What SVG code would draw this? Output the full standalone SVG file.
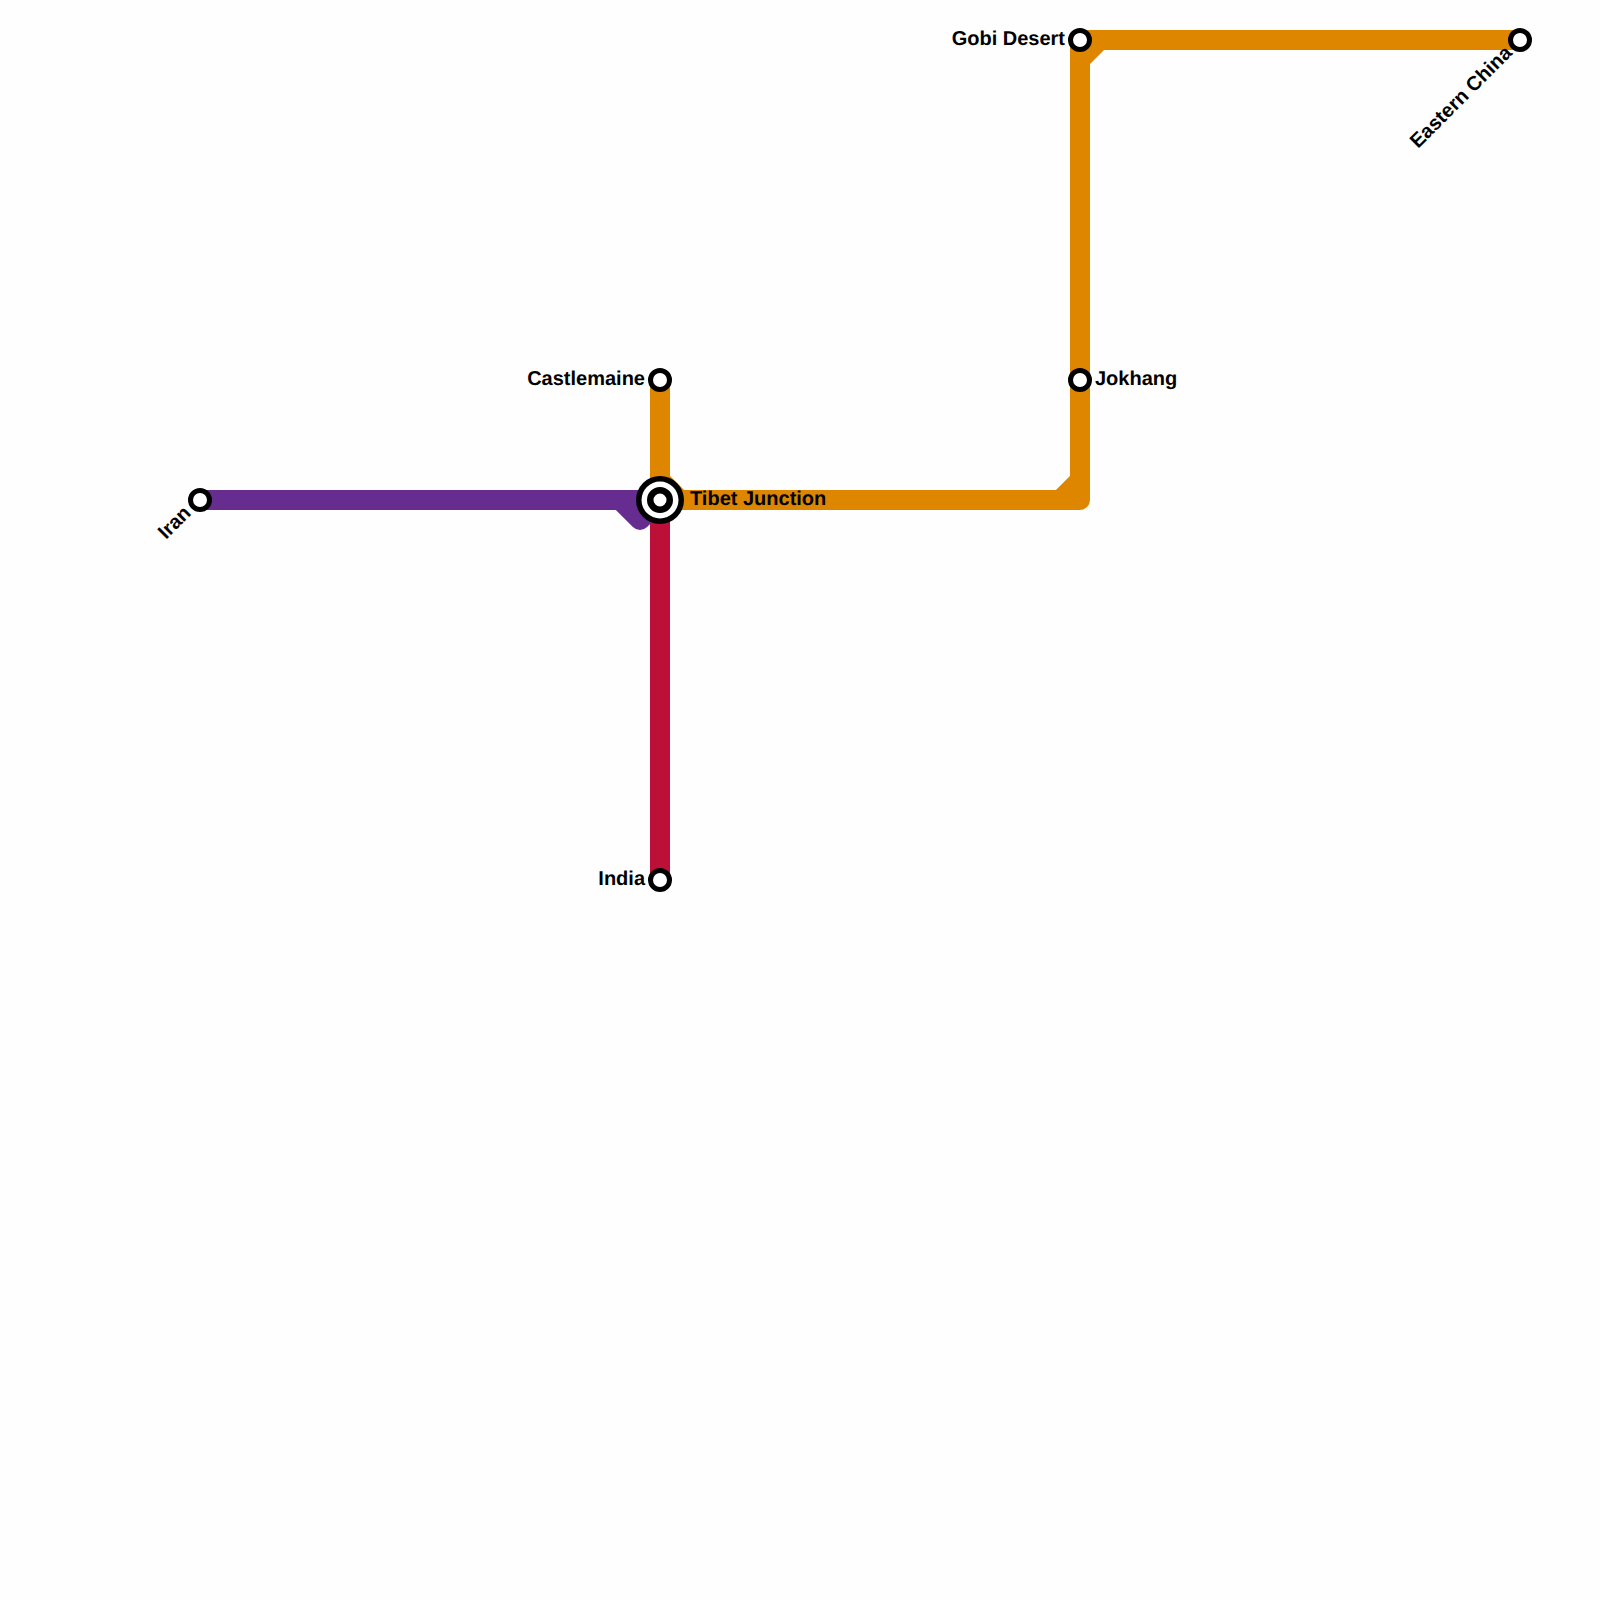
<svg xmlns="http://www.w3.org/2000/svg" width="1600" height="1600" viewBox="0 0 1600 1600">
<style>
.l{fill:none;stroke-width:20;stroke-linejoin:round}
.s{fill:#fff;stroke:#000;stroke-width:5}
text{font-family:"Liberation Sans",Arial,sans-serif;font-weight:700;font-size:20px;fill:#000;text-rendering:geometricPrecision}
.e{text-anchor:end}
</style>
<rect width="1600" height="1600" fill="#fefefe"/>
<g id="connectors">
<path class="l" stroke="#df8600" d="M660 380V480L680 500H1060L1080 480V60L1100 40H1520"/>
<path class="l" stroke="#df8600" d="M680 500H1080V40H1100"/>
<path class="l" stroke="#bd1038" d="M660 500V880"/>
<path class="l" stroke="#662c90" d="M200 500H620L640 520L660 500Z"/>
</g>
<g id="iran"><circle class="s" cx="200" cy="500" r="9.5"/><text class="e" transform="translate(192 514) rotate(-45)">Iran</text></g>
<g id="tibet"><circle cx="660" cy="500" r="24" fill="#000"/><circle cx="660" cy="500" r="18.5" fill="#fff"/><circle cx="660" cy="500" r="9.75" fill="#fff" stroke="#000" stroke-width="6.5"/><text x="690" y="505">Tibet Junction</text></g>
<g id="castlemaine"><circle class="s" cx="660" cy="380" r="9.5"/><text class="e" x="645" y="385">Castlemaine</text></g>
<g id="india"><circle class="s" cx="660" cy="880" r="9.5"/><text class="e" x="645" y="885">India</text></g>
<g id="jokhang"><circle class="s" cx="1080" cy="380" r="9.5"/><text x="1095" y="385">Jokhang</text></g>
<g id="gobi"><circle class="s" cx="1080" cy="40" r="9.5"/><text class="e" x="1065" y="45">Gobi Desert</text></g>
<g id="eastern"><circle class="s" cx="1520" cy="40" r="9.5"/><text class="e" transform="translate(1513 54) rotate(-45)">Eastern China</text></g>
</svg>
